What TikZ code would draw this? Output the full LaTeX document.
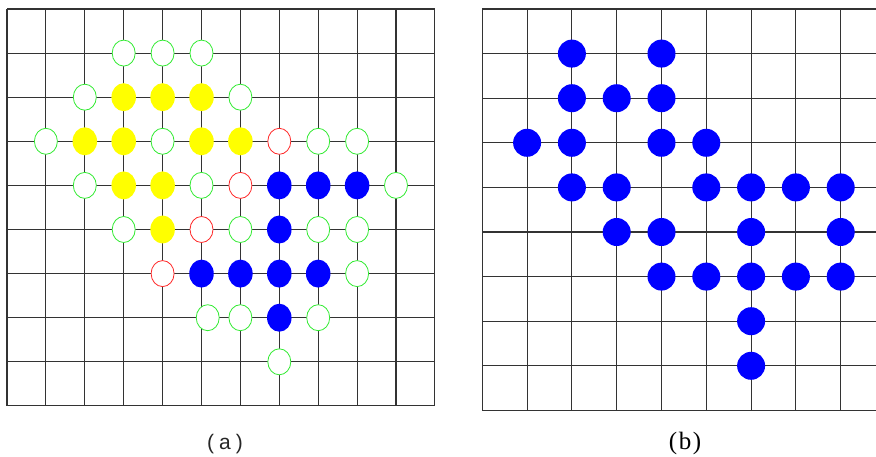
\documentclass[tikz,border=0pt]{standalone}
\usepackage{fontspec}
\setmainfont{Liberation Serif}
\newfontfamily\labsans{Liberation Sans}
\usetikzlibrary{shapes.geometric}
\definecolor{dotgreen}{RGB}{50,235,50}
\definecolor{dotred}{RGB}{255,40,40}
\definecolor{dotblue}{RGB}{0,0,255}
\definecolor{dotyellow}{RGB}{255,255,0}
\begin{document}
\begin{tikzpicture}[x=1pt,y=-1pt,
  gridline/.style={line width=1.1pt, draw=black!80},
  ringbase/.style={ellipse, minimum width=23, minimum height=26, inner sep=0pt, line width=0.8pt, fill=white},
  greenring/.style={ringbase, draw=dotgreen},
  redring/.style={ringbase, draw=dotred},
  filledA/.style={ellipse, minimum width=24.5, minimum height=28, inner sep=0pt, draw=none},
  yellowdot/.style={filledA, fill=dotyellow},
  bluedotA/.style={filledA, fill=dotblue},
  bluedotB/.style={circle, minimum size=28, inner sep=0pt, draw=none, fill=dotblue},
  caption/.style={inner sep=0pt}
]
\useasboundingbox (0,0) rectangle (876,457);
% grid (a)
\foreach \i in {0,...,11} \draw[gridline] ({7+38.9*\i},9) -- ({7+38.9*\i},406);
\foreach \j in {0,...,9} \draw[gridline] (7,{9+44.1*\j}) -- (435,{9+44.1*\j});
% grid (b)
\foreach \i in {0,...,8} \draw[gridline] ({482.3+44.8*\i},9) -- ({482.3+44.8*\i},410.3);
\foreach \j in {0,...,9} \draw[gridline] (482.3,{9+44.6*\j}) -- (876,{9+44.6*\j});
% (a) green rings
\foreach \i/\j [count=\n] in {3/1,4/1,5/1,2/2,6/2,1/3,4/3,8/3,9/3,2/4,5/4,10/4,3/5,6/5,8/5,9/5,9/6,5.16/7,6/7,8/7,7/8}
  \node[greenring] (ga\n) at ({7+38.9*\i},{9+44.1*\j}) {};
% (a) yellow
\foreach \i/\j [count=\n] in {3/2,4/2,5/2,2/3,3/3,5/3,6/3,3/4,4/4,4/5}
  \node[yellowdot] (ya\n) at ({7+38.9*\i},{9+44.1*\j}) {};
% (a) red rings
\foreach \i/\j [count=\n] in {7/3,6/4,5/5,4/6}
  \node[redring] (ra\n) at ({7+38.9*\i},{9+44.1*\j}) {};
% (a) blue
\foreach \i/\j [count=\n] in {7/4,8/4,9/4,7/5,5/6,6/6,7/6,8/6,7/7}
  \node[bluedotA] (ba\n) at ({7+38.9*\i},{9+44.1*\j}) {};
% (b) blue
\foreach \i/\j [count=\n] in {2/1,4/1,2/2,3/2,4/2,1/3,2/3,4/3,5/3,2/4,3/4,5/4,6/4,7/4,8/4,3/5,4/5,6/5,8/5,4/6,5/6,6/6,7/6,8/6,6/7,6/8}
  \node[bluedotB] (bb\n) at ({482.3+44.8*\i},{9+44.6*\j}) {};
% captions
\node[caption, font=\labsans\fontsize{21}{24}\selectfont, text=black!85] (capa) at (225,444) {(\hspace{5pt}a\hspace{5pt})};
\node[caption, font=\fontsize{25}{28}\selectfont] (capb) at (685,443) {(\hspace{1.5pt}b\hspace{1.5pt})};
\end{tikzpicture}
\end{document}
